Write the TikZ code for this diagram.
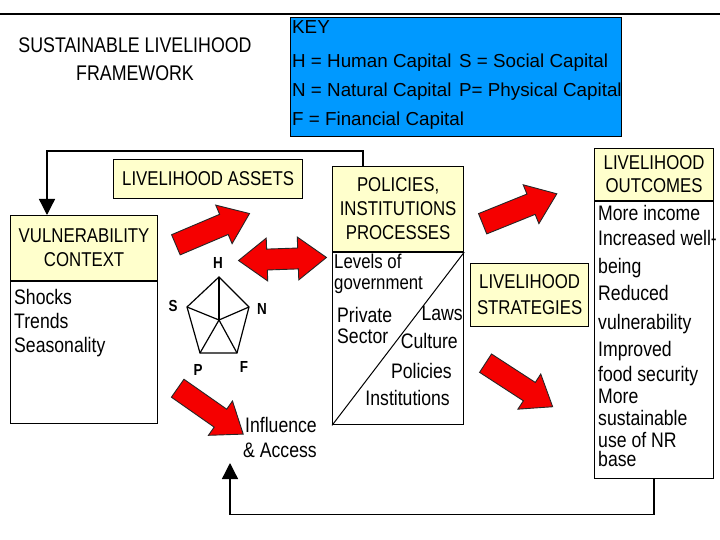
\documentclass[tikz,border=0pt]{standalone}
\usepackage{fontspec}
\setmainfont{Liberation Sans}[FakeStretch=0.84]
\newfontfamily\keyfont{Liberation Sans}
\usetikzlibrary{positioning,arrows.meta,shapes.arrows,calc}
\definecolor{paleyel}{RGB}{255,255,204}
\definecolor{keyblue}{RGB}{0,153,255}
\definecolor{arrred}{RGB}{245,0,0}

\begin{document}
\begin{tikzpicture}[x=1pt,y=-1pt,
  hdr/.style={draw,line width=1.2pt,fill=paleyel,align=center,inner sep=0pt,font=\fontsize{20}{24}\selectfont},
  bodybox/.style={draw,line width=1.2pt,fill=white,inner sep=0pt},
  txt/.style={align=left,inner sep=0pt,font=\fontsize{21}{24}\selectfont},
  lbl/.style={inner sep=0pt,font=\bfseries\fontsize{16}{16}\selectfont},
  bigarrow/.style={single arrow,draw=black!85,fill=arrred,line width=0.9pt,inner xsep=0pt,inner ysep=10.5pt,
    single arrow head extend=10pt,single arrow tip angle=74,minimum height=80pt},
  dblarrow/.style={double arrow,draw=black!85,fill=arrred,line width=0.9pt,inner xsep=0pt,inner ysep=10pt,
    double arrow head extend=11pt,double arrow tip angle=74,minimum height=88pt},
  feed/.style={line width=1.3pt,-{Triangle[length=16pt,width=16pt]}},
  pent/.style={line width=1.2pt},
]
\fill[white] (0,0) rectangle (720,540);
\useasboundingbox (0,0) rectangle (720,540);
\draw[line width=1.2pt] (0,14) -- (720,14);

% ===== title and key =====
\node[align=center,inner sep=0pt,anchor=north,font=\fontsize{21.2}{28}\selectfont] (title) at (135,37.5)
  {SUSTAINABLE LIVELIHOOD\\FRAMEWORK};
\node[draw,line width=1.2pt,fill=keyblue,minimum width=331pt,minimum height=119pt,anchor=north west] (key) at (290,17) {};
\node[align=left,inner sep=0pt,anchor=north west,font=\keyfont\fontsize{18.8}{29}\selectfont] (keytxt) at (292,20)
  {KEY\\[5pt]
   \makebox[167pt][l]{H = Human Capital}S = Social Capital\\
   \makebox[167pt][l]{N = Natural Capital}P= Physical Capital\\
   F = Financial Capital};

% ===== vulnerability context =====
\node[hdr,minimum width=147pt,minimum height=65pt,anchor=north west] (vh) at (10,215) {VULNERABILITY\\CONTEXT};
\node[bodybox,minimum width=147pt,minimum height=142pt,below=0pt of vh] (vb) {};
\node[txt,anchor=north west] (vt) at (14,289.5) {Shocks\\Trends\\Seasonality};

% ===== livelihood assets + pentagon =====
\node[hdr,minimum width=189pt,minimum height=39pt,anchor=north west] (la) at (113,159) {LIVELIHOOD ASSETS};
\coordinate (pH) at (219,277);
\coordinate (pN) at (249,307);
\coordinate (pF) at (237,353);
\coordinate (pP) at (200,353);
\coordinate (pS) at (187,307);
\coordinate (pc) at (219,320);
\draw[pent] (pH) -- (pN) -- (pF) -- (pP) -- (pS) -- cycle;
\foreach \v in {pH,pN,pF,pP,pS} \draw[pent] (pc) -- (\v);
\node[lbl] (lH) at (218,263) {H};
\node[lbl] (lS) at (173,306) {S};
\node[lbl] (lN) at (262,309) {N};
\node[lbl] (lP) at (198,370) {P};
\node[lbl] (lF) at (244,367) {F};
\node[txt,anchor=north west,font=\fontsize{21}{25}\selectfont] (infl) at (245,417.5) {Influence\\\hspace*{-2pt}\& Access};

% ===== policies, institutions, processes =====
\node[hdr,minimum width=131pt,minimum height=85pt,anchor=north west] (ph) at (332,166) {POLICIES,\\INSTITUTIONS\\PROCESSES};
\node[bodybox,minimum width=131pt,minimum height=172pt,below=0pt of ph] (pb) {};
\draw[line width=1pt] (pb.north east) -- (pb.south west);
\node[txt,anchor=north west,font=\fontsize{20}{21}\selectfont] (gov) at (334,253.5) {Levels of\\government};
\node[txt,anchor=north west,font=\fontsize{21}{21}\selectfont] (priv) at (337,307.5) {Private\\Sector};
\node[txt,anchor=base east] (laws) at (463,320.5) {Laws};
\node[txt,anchor=base east] (cult) at (458,348.5) {Culture};
\node[txt,anchor=base east] (pol) at (452,378.5) {Policies};
\node[txt,anchor=base east] (inst) at (450,405.5) {Institutions};

% ===== strategies and outcomes =====
\node[hdr,minimum width=118pt,minimum height=63pt,anchor=north west,font=\fontsize{20}{26}\selectfont] (ls) at (470,263) {LIVELIHOOD\\STRATEGIES};
\node[hdr,minimum width=119pt,minimum height=52pt,anchor=north west,font=\fontsize{20}{23}\selectfont] (oh) at (594,148) {LIVELIHOOD\\OUTCOMES};
\node[bodybox,minimum width=119pt,minimum height=277pt,below=0pt of oh] (ob) {};
\node[txt,anchor=north west,font=\fontsize{21}{22}\selectfont] (ot) at (598,205.5)
  {More income\\[3pt]Increased well-\\[6pt]being\\[5pt]Reduced\\[7pt]vulnerability\\[5pt]Improved\\[3pt]food security\\More\\sustainable\\use of NR\\[-3pt]base};

% ===== red block arrows =====
\node[bigarrow,rotate=23] (toassets) at (206,232) {};
\node[dblarrow,rotate=2] (twoway) at (282.5,259) {};
\node[bigarrow,rotate=22] (tooutc) at (513,211.5) {};
\node[bigarrow,rotate=-33] (tostrat) at (513,381) {};
\node[bigarrow,rotate=-35] (toinfl) at (204.5,407) {};

% ===== feedback loops =====
\draw[feed] ([xshift=31pt]ph.north west) -- ++(0,-15) -| ([xshift=37pt]vh.north west);
\coordinate (ia) at (230,463);
\draw[feed] ([xshift=60pt]ob.south west) -- ++(0,35) -| (ia);
\end{tikzpicture}
\end{document}
